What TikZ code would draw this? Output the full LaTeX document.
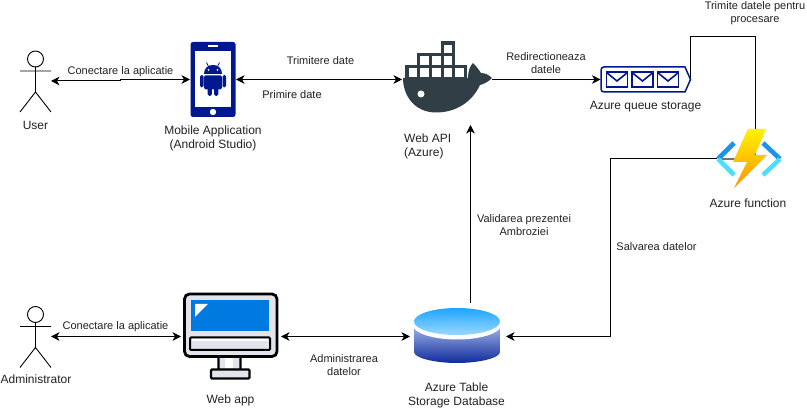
\documentclass[tikz,border=0pt]{standalone}
\usepackage{fontspec}
\setmainfont{Liberation Sans}
\usepackage{xcolor}
\usetikzlibrary{arrows.meta}
\definecolor{navy}{HTML}{00188F}
\definecolor{whale}{HTML}{323E46}
\definecolor{screen}{HTML}{0079E0}
\definecolor{panel}{HTML}{E1E4EA}
\definecolor{txt}{HTML}{222222}
\definecolor{dbtop}{HTML}{1EA5FF}
\definecolor{dbtoplow}{HTML}{9AD8FF}
\definecolor{dbside}{HTML}{9CB0E4}
\definecolor{dbsidelow}{HTML}{0F2A9C}
\tikzset{
  stickman/.pic={
    \draw[line width=0.9pt] (0pt,22pt) circle (8pt);
    \draw[line width=0.9pt] (0pt,14pt) -- (0pt,-11pt) (-15.5pt,10pt) -- (15.5pt,10pt)
      (-15.5pt,-31pt) -- (0pt,-11pt) -- (15.5pt,-31pt);
  }
}
\begin{document}
\begin{tikzpicture}[x=1pt,y=-1pt,>={Stealth[length=8.5pt,width=8.5pt,inset=2.5pt]},
  icon/.style={minimum height=#1,inner sep=0pt,outer sep=0pt},
  lbl/.style={font=\fontsize{11}{13}\selectfont,text=txt,align=center,inner sep=0pt},
  iconcap/.style={font=\fontsize{12}{14}\selectfont,text=txt,align=center,inner sep=0pt},
  wire/.style={line width=1pt}]
\fill[white] (0,0) rectangle (807,411);
\useasboundingbox (0,0) rectangle (807,411);
% icon places
\node[icon=62pt,minimum width=31pt] (user) at (35.5,81) {};
\node[icon=75pt,minimum width=46pt] (phone) at (213,79.5) {};
\node[icon=91pt,minimum width=90pt] (api) at (447,79.5) {};
\node[icon=26pt,minimum width=90pt] (queue) at (645.5,79.5) {};
\node[icon=62pt,minimum width=77pt] (func) at (755.5,159) {};
\node[icon=62pt,minimum width=31pt] (admin) at (35.5,336.5) {};
\node[icon=86pt,minimum width=100pt] (monitor) at (231,336.5) {};
\node[icon=67pt,minimum width=96pt] (db) at (458,336.5) {};
\coordinate (userbend) at (120.5,81);
\coordinate (queuetop) at (755.5,36.5);
\coordinate (dbbend) at (610.5,336.5);
% connectors
\draw[wire,<->] (user.east) -- (userbend) |- (phone.west);
\draw[wire,<->] (phone.east) -- (api.west);
\draw[wire,->] (api.east) -- (queue.west);
\draw[wire] (queue.east) |- (queuetop) -- (func.center);
\draw[wire,->] (func.west) -| (dbbend) -- (db.east);
\draw[wire,->] ([xshift=12.5pt]db.north) -- ([xshift=23.5pt]api.south);
\draw[wire,<->] (admin.east) -- (monitor.west);
\draw[wire,<->] (monitor.east) -- (db.west);
% actors
\pic at (user) {stickman};
\pic at (admin) {stickman};
% phone
\fill[navy,rounded corners=2.5pt] (190.5,42) rectangle (235.5,117);
\fill[white] (194.5,51) rectangle (231,107);
\fill[white] (208,45.3) rectangle (218,47.3);
\fill[white] (213,112) circle (3.2pt);
\fill[navy] (204,74) .. controls (204,68) and (208,65) .. (213,65) .. controls (218,65) and (222,68) .. (222,74) -- cycle;
\draw[navy,line width=0.8pt] (206.5,62.5) -- (208.5,66.5) (219.5,62.5) -- (217.5,66.5);
\fill[white] (208.5,70) circle (1pt) (217.5,70) circle (1pt);
\fill[navy,rounded corners=1.5pt] (204,75.5) rectangle (222,89.5);
\foreach \x in {200,222.5} {
  \fill[navy,rounded corners=1.6pt] (\x,75) rectangle (\x+3.6,87.5);
}
\foreach \x in {207.5,214} {
  \fill[navy,rounded corners=1.8pt] (\x,85) rectangle (\x+4.4,96);
}
% whale
\fill[whale] (403,78) -- (468,78) .. controls (468,71) and (470,66) .. (473,63)
  .. controls (476,66) and (479,70) .. (481,73) .. controls (485,73) and (489,75) .. (492,78)
  .. controls (488,82) and (484,84) .. (480,85) .. controls (472,102) and (456,112.5) .. (436,112.5)
  .. controls (415,112.5) and (403,96) .. (403,78) -- cycle;
\fill[white] (421,94) circle (3.5pt);
\foreach \x/\y in {407/66.5,418.7/66.5,430.4/66.5,442.1/66.5,453.8/66.5,418.7/54.8,430.4/54.8,442.1/54.8,442.1/43.1} {
  \draw[whale,line width=3.2pt,fill=white] (\x,\y) rectangle (\x+11.7,\y+11.7);
}
% queue
\draw[navy,line width=1.5pt] (640,67) -- (685,67) -- (690.5,79.5) -- (685,92)
  [rounded corners=3pt] -- (601,92) -- (601,67) -- cycle;
\foreach \x in {606.5,632,657.5} {
  \draw[navy,line width=1.6pt] (\x,72) rectangle (\x+21,87);
  \draw[navy,line width=1.6pt] (\x,72.5) -- (\x+10.5,81) -- (\x+21,72.5);
}
% function
\draw[black!55,line width=1.2pt] (722,159) -- (735,159);
\draw[color={rgb,255:red,27;green,147;blue,235},line width=4.6pt] (734,143) -- (718,159);
\draw[color={rgb,255:red,80;green,220;blue,255},line width=4.6pt] (718,159) -- (734,175);
\draw[color={rgb,255:red,27;green,147;blue,235},line width=4.6pt] (763,143) -- (780,159);
\draw[color={rgb,255:red,80;green,220;blue,255},line width=4.6pt] (780,159) -- (763,175);
\shade[top color=yellow!90!orange,bottom color=orange!85!yellow] (748,129) -- (766,129) -- (755,155)
  -- (767,155) -- (734,188) -- (747,162) -- (733,162) -- cycle;
% monitor
\draw[line width=2.4pt,fill=panel,rounded corners=1pt] (218.5,355) rectangle (240.5,370);
\fill[white] (224.5,358) rectangle (233,368);
\draw[line width=2.4pt,fill=panel,rounded corners=1pt] (211,369.5) rectangle (249.5,378.5);
\draw[line width=2.8pt,fill=panel,rounded corners=5pt] (184.5,294) rectangle (277,356.5);
\fill[screen] (191,300) rectangle (269,331);
\fill[white] (195,304) -- (208,304) -- (195,317) -- cycle;
\draw[line width=2pt,fill=panel,rounded corners=1pt] (190,337.5) rectangle (270,350);
\fill[white] (192,339) rectangle (268,341);
% database
\shade[top color=dbside,bottom color=dbsidelow] (414,327) -- (414,352)
  .. controls (414,358) and (435,363) .. (457,363) .. controls (479,363) and (500,358) .. (500,352)
  -- (500,327) -- cycle;
\fill[white] (457,325) ellipse (44pt and 14.5pt);
\shade[top color=dbtop,bottom color=dbtoplow] (457,321.5) ellipse (43pt and 13.5pt);
% labels
\node[iconcap] (usercap) at (35.5,125) {User};
\node[iconcap] (phonecap) at (213,138) {Mobile Application\\(Android Studio)};
\node[iconcap,anchor=west,align=left] (apicap) at (404,146) {Web API\\(Azure)};
\node[iconcap] (queuecap) at (645.5,107) {Azure queue storage};
\node[iconcap] (funccap) at (748,203) {Azure function};
\node[iconcap] (admincap) at (36,379) {Administrator};
\node[iconcap] (monitorcap) at (230.5,400) {Web app};
\node[iconcap] (dbcap) at (456.5,395) {Azure Table\\Storage Database};
\node[lbl] (connectuser) at (120.5,72) {Conectare la aplicatie};
\node[lbl] (senddata) at (320.5,60.5) {Trimitere date};
\node[lbl,fill=black!3,inner sep=1pt] (getdata) at (292,95) {Primire date};
\node[lbl] (redirect) at (546,63.5) {Redirectioneaza\\datele};
\node[lbl] (sendproc) at (755,13.5) {Trimite datele pentru\\procesare};
\node[lbl] (validate) at (524,225.5) {Validarea prezentei\\Ambroziei};
\node[lbl] (savedata) at (656.5,246.5) {Salvarea datelor};
\node[lbl] (connectadmin) at (115.5,327) {Conectare la aplicatie};
\node[lbl] (managedata) at (344,365.5) {Administrarea\\datelor};
\end{tikzpicture}
\end{document}
